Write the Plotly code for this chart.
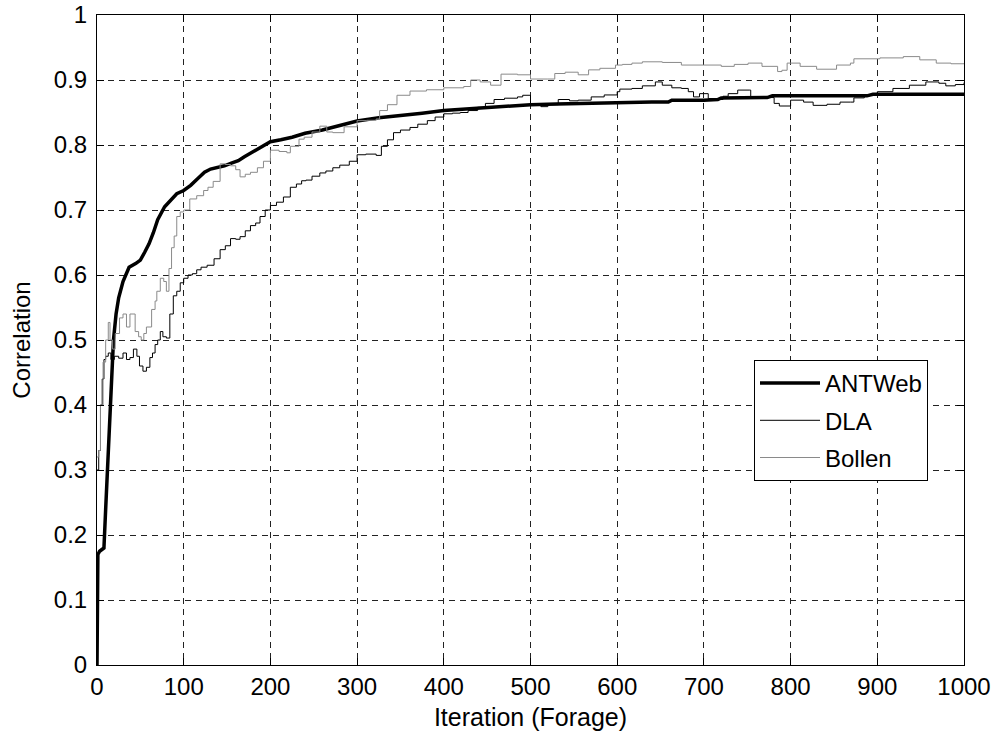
import plotly.graph_objects as go

# ---------------- data ----------------
ant_x = [0, 1, 3, 6, 8, 10, 13, 15, 17, 19, 22, 25, 30, 37, 45, 50, 55, 60, 65, 70, 78, 85, 92, 100,
         108, 116, 124, 131, 139, 147, 155, 163, 170, 178, 186, 193, 200, 212, 225, 240, 260, 280, 300,
         325, 350, 375, 400, 430, 458, 480, 500, 530, 559, 590, 617, 640, 659, 663, 700, 716, 720, 750,
         773, 779, 820, 860, 888, 895, 950, 1000]
ant_y = [0, 0.17, 0.175, 0.178, 0.18, 0.24, 0.33, 0.40, 0.45, 0.50, 0.54, 0.565, 0.59, 0.612, 0.618,
         0.623, 0.635, 0.648, 0.665, 0.685, 0.705, 0.715, 0.725, 0.73, 0.738, 0.748, 0.758, 0.763, 0.765,
         0.768, 0.772, 0.776, 0.782, 0.788, 0.795, 0.80, 0.805, 0.808, 0.812, 0.818, 0.823, 0.83, 0.837,
         0.842, 0.845, 0.849, 0.853, 0.856, 0.858, 0.86, 0.862, 0.863, 0.864, 0.865, 0.866, 0.866, 0.866,
         0.869, 0.869, 0.87, 0.8725, 0.8725, 0.873, 0.8756, 0.8756, 0.8756, 0.8756, 0.878, 0.878, 0.878]

dla_x = [0, 2, 4, 6, 8, 10, 13, 16, 20, 25, 30, 34, 38, 42, 46, 49, 53, 57, 61, 64, 67, 70, 73, 76, 80,
         84, 88, 92, 96, 100, 105, 110, 115, 120, 127, 135, 142, 148, 154, 160, 165, 171, 177, 183, 188,
         194, 200, 207, 215, 223, 230, 236, 241, 248, 257, 264, 272, 280, 291, 300, 310, 322, 328, 335,
         342, 350, 361, 370, 381, 390, 400, 410, 419, 428, 439, 448, 458, 470, 485, 491, 500, 512, 520,
         532, 545, 555, 570, 585, 600, 603, 617, 629, 644, 652, 663, 674, 682, 688, 695, 705, 716, 722,
         728, 739, 753, 754, 773, 781, 787, 800, 815, 826, 842, 857, 869, 873, 885, 900, 918, 937, 956,
         971, 979, 990, 1000]
dla_y = [0.30, 0.33, 0.40, 0.44, 0.47, 0.475, 0.48, 0.47, 0.475, 0.472, 0.48, 0.47, 0.473, 0.486, 0.475,
         0.46, 0.452, 0.458, 0.473, 0.48, 0.493, 0.50, 0.513, 0.505, 0.503, 0.54, 0.568, 0.575, 0.588,
         0.595, 0.60, 0.602, 0.608, 0.612, 0.615, 0.625, 0.639, 0.645, 0.656, 0.655, 0.659, 0.668, 0.676,
         0.68, 0.69, 0.70, 0.707, 0.712, 0.72, 0.735, 0.74, 0.745, 0.746, 0.752, 0.757, 0.76, 0.765, 0.769,
         0.775, 0.785, 0.786, 0.784, 0.798, 0.808, 0.819, 0.823, 0.827, 0.832, 0.8375, 0.843, 0.848, 0.849,
         0.85, 0.853, 0.858, 0.864, 0.87, 0.872, 0.874, 0.8765, 0.8635, 0.859, 0.862, 0.87, 0.868, 0.869,
         0.874, 0.877, 0.882, 0.886, 0.887, 0.891, 0.897, 0.892, 0.888, 0.887, 0.882, 0.874, 0.879, 0.8715,
         0.87, 0.875, 0.879, 0.8845, 0.8845, 0.874, 0.873, 0.864, 0.86, 0.869, 0.866, 0.861, 0.8627, 0.866,
         0.866, 0.8725, 0.877, 0.882, 0.887, 0.892, 0.897, 0.895, 0.891, 0.893, 0.896]

bol_x = [0, 2, 4, 7, 10, 13, 15, 18, 21, 26, 30, 34, 38, 44, 48, 51, 54, 57, 63, 67, 69, 73, 77, 80, 83,
         86, 89, 92, 96, 100, 107, 115, 123, 128, 134, 142, 148, 154, 160, 165, 171, 177, 185, 192, 200,
         210, 219, 223, 233, 239, 248, 257, 265, 272, 285, 300, 311, 322, 326, 335, 346, 361, 380, 400,
         423, 431, 442, 454, 466, 485, 500, 520, 528, 540, 555, 567, 580, 598, 606, 617, 629, 652, 674,
         700, 720, 735, 751, 767, 785, 790, 796, 811, 830, 853, 869, 873, 903, 930, 949, 968, 985, 1000]
bol_y = [0.32, 0.33, 0.40, 0.466, 0.50, 0.527, 0.50, 0.486, 0.51, 0.534, 0.54, 0.52, 0.54, 0.513, 0.505,
         0.50, 0.51, 0.52, 0.547, 0.56, 0.575, 0.595, 0.59, 0.575, 0.61, 0.642, 0.66, 0.69, 0.697, 0.70,
         0.717, 0.722, 0.73, 0.735, 0.744, 0.771, 0.77, 0.768, 0.762, 0.751, 0.755, 0.758, 0.765, 0.775,
         0.792, 0.79, 0.788, 0.798, 0.809, 0.812, 0.82, 0.829, 0.82, 0.819, 0.828, 0.8375, 0.838, 0.84,
         0.853, 0.862, 0.8765, 0.883, 0.885, 0.888, 0.89, 0.90, 0.897, 0.892, 0.909, 0.908, 0.9015, 0.9015,
         0.91, 0.912, 0.908, 0.9156, 0.918, 0.923, 0.924, 0.926, 0.928, 0.927, 0.923, 0.923, 0.921, 0.924,
         0.926, 0.921, 0.913, 0.915, 0.926, 0.921, 0.9166, 0.923, 0.926, 0.9326, 0.934, 0.936, 0.931, 0.926,
         0.925, 0.9254]

series_names = ["ANTWeb", "DLA", "Bollen"]
x_ticks = [0, 100, 200, 300, 400, 500, 600, 700, 800, 900, 1000]
y_ticks = [0, 0.1, 0.2, 0.3, 0.4, 0.5, 0.6, 0.7, 0.8, 0.9, 1]
y_tick_labels = ["0", "0.1", "0.2", "0.3", "0.4", "0.5", "0.6", "0.7", "0.8", "0.9", "1"]

FONT = "Liberation Sans, Arial, sans-serif"

# ---------------- figure ----------------
fig = go.Figure()
fig.add_trace(go.Scatter(x=ant_x, y=ant_y, mode="lines", name=series_names[0], legendgroup="a",
                         line=dict(color="black", width=3.5)))
fig.add_trace(go.Scatter(x=dla_x, y=dla_y, mode="lines", name=series_names[1], legendgroup="b",
                         line=dict(color="black", width=1, shape="hv")))
fig.add_trace(go.Scatter(x=bol_x, y=bol_y, mode="lines", name=series_names[2], legendgroup="c",
                         line=dict(color="#8a8a8a", width=1, shape="hv")))

axis_common = dict(
    showline=True, linecolor="black", linewidth=1, mirror="ticks",
    ticks="inside", ticklen=7, tickcolor="black",
    showgrid=True, gridcolor="#222222", griddash="6px,5px", gridwidth=0.8,
    zeroline=False,
    tickfont=dict(family=FONT, size=24, color="black"),
)

TOP, BOTTOM, LEFT, RIGHT = 15, 665, 97, 964
W, H = 993, 731

fig.update_layout(
    width=W, height=H,
    paper_bgcolor="white", plot_bgcolor="white",
    margin=dict(l=LEFT, r=W - RIGHT, t=TOP, b=H - BOTTOM, autoexpand=False),
    font=dict(family=FONT, color="black"),
    showlegend=True,
    legend=dict(
        x=(928 - LEFT) / (RIGHT - LEFT), y=(BOTTOM - 360) / (BOTTOM - TOP),
        xanchor="right", yanchor="top",
        bgcolor="white", bordercolor="black", borderwidth=1,
        font=dict(size=24, color="black", family=FONT),
        tracegroupgap=3, itemwidth=60,
    ),
)
fig.update_xaxes(range=[0, 1000], tickvals=x_ticks, **axis_common,
                 ticklabelstandoff=0,
                 title=dict(text="Iteration (Forage)", font=dict(size=25, family=FONT), standoff=15))
fig.update_yaxes(range=[0, 1], tickvals=y_ticks, ticktext=y_tick_labels, **axis_common,
                 ticklabelstandoff=4,
                 title=dict(text="Correlation", font=dict(size=24, family=FONT), standoff=16))

fig.write_html("out.html", config={"displayModeBar": False},
               post_script="document.body.style.margin='0';document.body.style.overflow='hidden';")
